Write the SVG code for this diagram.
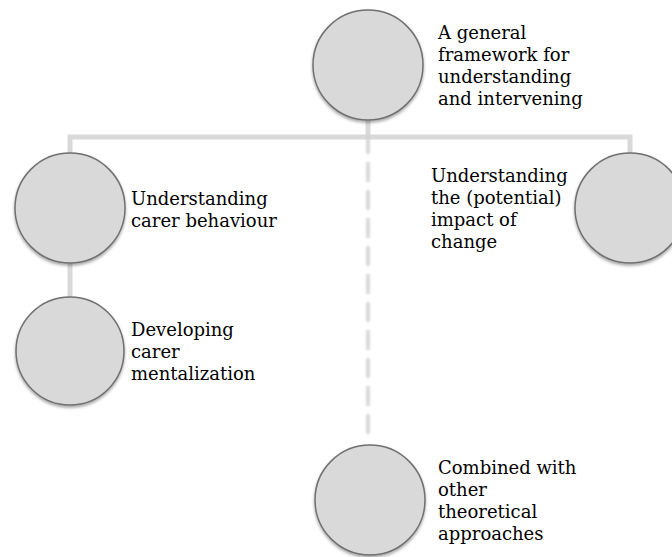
<svg xmlns="http://www.w3.org/2000/svg" width="672" height="557" viewBox="0 0 672 557">
<defs>
<style>
.node{fill:#d9d9d9;stroke:#707070;stroke-width:1.5;filter:url(#sh)}
.lbl{font-family:"DejaVu Serif","Liberation Serif",serif;font-size:18px;fill:#000}
.conn{fill:none;stroke:#d9d9d9;stroke-width:5}
.dash{fill:none;stroke:#d4d4d4;stroke-width:3.5;stroke-dasharray:20 8;filter:url(#soft)}
</style>
<filter id="sh" x="-20%" y="-20%" width="140%" height="150%">
<feDropShadow dx="0" dy="2" stdDeviation="1.5" flood-color="#000" flood-opacity="0.35"/>
</filter>
<filter id="soft" filterUnits="userSpaceOnUse" x="350" y="120" width="36" height="340">
<feGaussianBlur stdDeviation="0.8"/>
</filter>
</defs>
<rect width="672" height="557" fill="#fff"/>
<g id="connectors">
<path class="conn" d="M70,153 V137 H630 V153"/>
<path class="conn" d="M368,118 V137"/>
<path class="conn" d="M70,262 V297"/>
<path class="dash" d="M368,134 V440"/>
</g>
<g id="n-top">
<circle class="node" cx="368" cy="65" r="55"/>
<text class="lbl" x="438" y="39">A general</text>
<text class="lbl" x="438" y="61">framework for</text>
<text class="lbl" x="438" y="83">understanding</text>
<text class="lbl" x="438" y="105">and intervening</text>
</g>
<g id="n-behaviour">
<circle class="node" cx="70" cy="208" r="55"/>
<text class="lbl" x="131" y="205">Understanding</text>
<text class="lbl" x="131" y="227">carer behaviour</text>
</g>
<g id="n-mentalization">
<circle class="node" cx="70" cy="351" r="54"/>
<text class="lbl" x="131" y="336">Developing</text>
<text class="lbl" x="131" y="358">carer</text>
<text class="lbl" x="131" y="380">mentalization</text>
</g>
<g id="n-change">
<circle class="node" cx="630" cy="208" r="55"/>
<text class="lbl" x="431" y="182">Understanding</text>
<text class="lbl" x="431" y="204">the (potential)</text>
<text class="lbl" x="431" y="226">impact of</text>
<text class="lbl" x="431" y="248">change</text>
</g>
<g id="n-combined">
<circle class="node" cx="370" cy="500" r="55"/>
<text class="lbl" x="438" y="474">Combined with</text>
<text class="lbl" x="438" y="496">other</text>
<text class="lbl" x="438" y="518">theoretical</text>
<text class="lbl" x="438" y="540">approaches</text>
</g>
</svg>
